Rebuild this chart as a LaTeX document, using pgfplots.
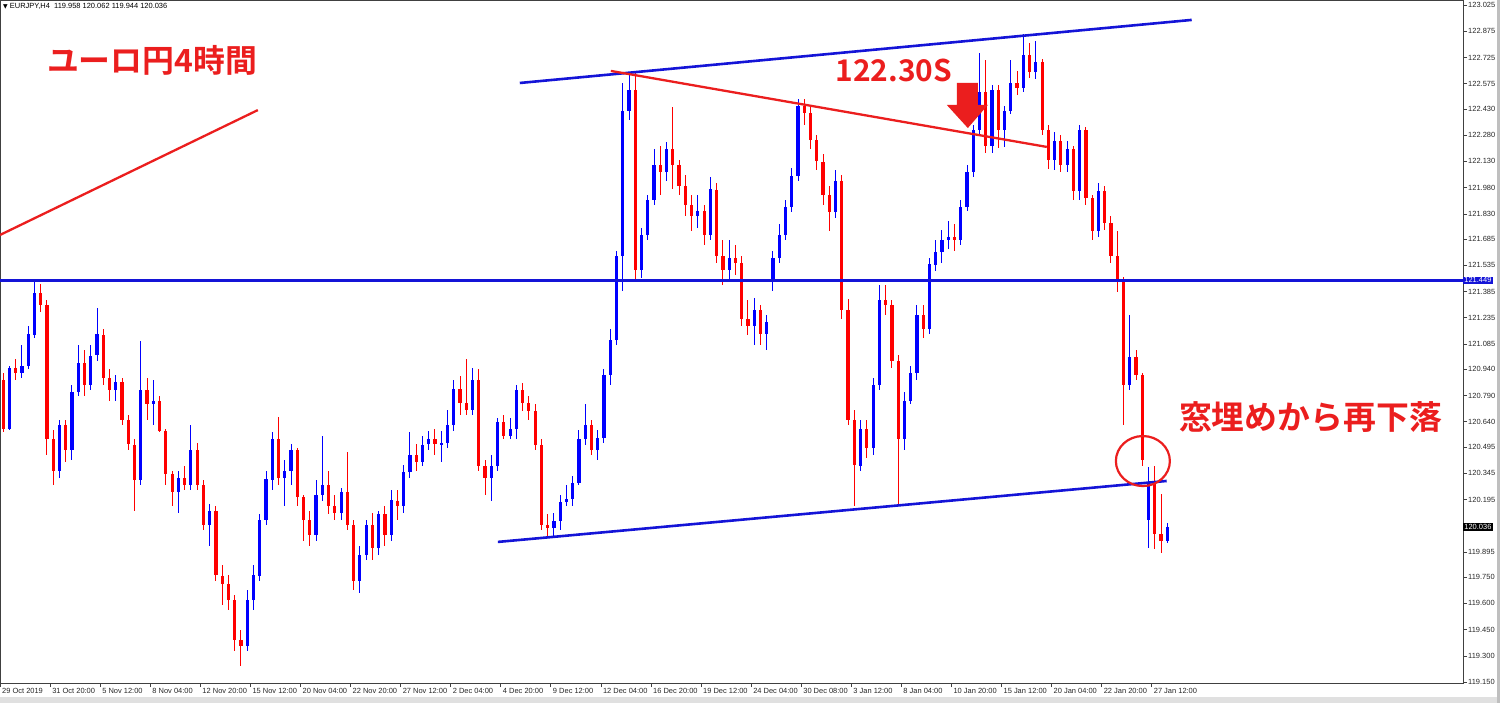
\documentclass[border=0pt]{standalone}
\usepackage{pgfplots}
\pgfplotsset{compat=1.18}
\usepackage{pgfplotstable}
\usepackage{fontspec}
\setmainfont{Liberation Sans}
\newfontfamily\jp{Noto Sans CJK JP}[BoldFont={Noto Sans CJK JP Bold}]
\newfontfamily\sym{DejaVu Sans}
\definecolor{cblue}{RGB}{0,0,255}
\definecolor{cred}{RGB}{255,0,0}
\definecolor{lblue}{RGB}{20,20,215}
\definecolor{lred}{RGB}{235,30,30}

\pgfplotstableread{
x o h l c
1 120.88 120.92 120.58 120.60
3 120.60 120.96 120.59 120.95
5 120.95 121.00 120.88 120.92
7 120.92 121.08 120.89 120.96
9 120.96 121.19 120.94 121.14
11 121.14 121.45 121.12 121.38
13 121.38 121.43 121.27 121.31
15 121.31 121.34 120.45 120.54
17 120.54 120.59 120.28 120.36
19 120.36 120.65 120.32 120.62
21 120.62 120.65 120.41 120.48
23 120.48 120.85 120.42 120.81
25 120.81 121.08 120.79 120.98
27 120.98 121.05 120.79 120.85
29 120.85 121.08 120.82 121.02
31 121.02 121.29 120.99 121.14
33 121.14 121.17 120.85 120.89
35 120.89 120.94 120.76 120.82
37 120.82 120.91 120.76 120.87
39 120.87 120.89 120.62 120.65
41 120.65 120.68 120.48 120.51
43 120.51 120.54 120.13 120.31
45 120.31 121.10 120.28 120.82
47 120.82 120.89 120.65 120.74
49 120.74 120.88 120.62 120.76
51 120.76 120.79 120.58 120.59
53 120.59 120.60 120.28 120.34
55 120.34 120.36 120.16 120.24
57 120.24 120.36 120.12 120.32
59 120.32 120.39 120.25 120.28
61 120.28 120.62 120.25 120.48
63 120.48 120.52 120.25 120.28
65 120.28 120.31 120.02 120.05
67 120.05 120.17 119.93 120.13
69 120.13 120.16 119.73 119.76
71 119.76 119.82 119.59 119.71
73 119.71 119.76 119.56 119.62
75 119.62 119.65 119.33 119.39
77 119.39 119.45 119.24 119.36
79 119.36 119.68 119.33 119.62
81 119.62 119.82 119.56 119.76
83 119.76 120.11 119.73 120.08
85 120.08 120.36 120.05 120.31
87 120.31 120.58 120.25 120.54
89 120.54 120.67 120.28 120.32
91 120.32 120.42 120.16 120.36
93 120.36 120.51 120.28 120.48
95 120.48 120.49 120.16 120.21
97 120.21 120.22 119.96 120.08
99 120.08 120.13 119.93 119.99
101 119.99 120.31 119.96 120.22
103 120.22 120.56 120.19 120.28
105 120.28 120.36 120.11 120.16
107 120.16 120.22 120.08 120.12
109 120.12 120.26 120.08 120.24
111 120.24 120.47 120.02 120.05
113 120.05 120.08 119.68 119.73
115 119.73 119.93 119.66 119.88
117 119.88 120.08 119.85 120.05
119 120.05 120.12 119.85 119.92
121 119.92 120.13 119.88 120.11
123 120.11 120.16 119.93 119.99
125 119.99 120.25 119.96 120.19
127 120.19 120.25 120.08 120.16
129 120.16 120.39 120.12 120.35
131 120.35 120.58 120.32 120.45
133 120.45 120.51 120.36 120.41
135 120.41 120.56 120.39 120.51
137 120.51 120.59 120.48 120.54
139 120.54 120.60 120.45 120.51
141 120.51 120.59 120.41 120.52
143 120.52 120.71 120.49 120.62
145 120.62 120.88 120.59 120.83
147 120.83 120.90 120.68 120.75
149 120.75 121.00 120.68 120.71
151 120.71 120.95 120.68 120.88
153 120.88 120.94 120.36 120.39
155 120.39 120.42 120.22 120.32
157 120.32 120.45 120.19 120.39
159 120.39 120.66 120.36 120.64
161 120.64 120.68 120.54 120.56
163 120.56 120.66 120.54 120.60
165 120.60 120.85 120.54 120.82
167 120.82 120.86 120.70 120.75
169 120.75 120.79 120.65 120.70
171 120.70 120.74 120.48 120.51
173 120.51 120.54 120.02 120.05
175 120.05 120.11 119.98 120.03
177 120.03 120.12 119.98 120.07
179 120.07 120.22 120.02 120.18
181 120.18 120.28 120.16 120.20
183 120.20 120.33 120.16 120.29
185 120.29 120.59 120.28 120.54
187 120.54 120.74 120.51 120.62
189 120.62 120.65 120.45 120.48
191 120.48 120.59 120.42 120.55
193 120.55 120.94 120.52 120.91
195 120.91 121.17 120.85 121.11
197 121.11 121.62 121.08 121.59
199 121.59 122.58 121.39 122.42
201 122.42 122.64 122.37 122.54
203 122.54 122.64 121.45 121.51
205 121.51 121.75 121.46 121.71
207 121.71 121.94 121.68 121.91
209 121.91 122.20 121.88 122.11
211 122.11 122.22 121.94 122.07
213 122.07 122.24 122.02 122.20
215 122.20 122.44 121.97 122.11
217 122.11 122.14 121.94 121.99
219 121.99 122.05 121.82 121.88
221 121.88 121.94 121.73 121.82
223 121.82 121.94 121.75 121.85
225 121.85 121.88 121.65 121.71
227 121.71 122.04 121.68 121.97
229 121.97 122.01 121.55 121.59
231 121.59 121.68 121.42 121.51
233 121.51 121.68 121.44 121.58
235 121.58 121.65 121.48 121.55
237 121.55 121.59 121.19 121.23
239 121.23 121.34 121.14 121.19
241 121.19 121.35 121.08 121.28
243 121.28 121.31 121.08 121.14
245 121.14 121.25 121.05 121.21
247 121.45 121.62 121.39 121.58
249 121.58 121.77 121.55 121.71
251 121.71 121.91 121.68 121.87
253 121.87 122.09 121.84 122.05
255 122.05 122.49 122.02 122.45
257 122.45 122.49 122.34 122.41
259 122.41 122.44 122.20 122.25
261 122.25 122.28 122.08 122.13
263 122.13 122.17 121.88 121.94
265 121.94 121.99 121.73 121.84
267 121.84 122.08 121.81 122.02
269 122.02 122.05 121.23 121.28
271 121.28 121.34 120.62 120.65
273 120.65 120.71 120.16 120.39
275 120.39 120.65 120.36 120.60
277 120.60 120.65 120.43 120.49
279 120.49 120.89 120.45 120.85
281 120.85 121.42 120.82 121.34
283 121.34 121.42 121.25 121.31
285 121.31 121.34 120.95 120.99
287 120.99 121.02 120.17 120.54
289 120.54 120.81 120.48 120.76
291 120.76 120.96 120.74 120.92
293 120.92 121.31 120.88 121.25
295 121.25 121.31 121.12 121.17
297 121.17 121.58 121.14 121.54
299 121.54 121.68 121.50 121.61
301 121.61 121.74 121.55 121.68
303 121.68 121.79 121.63 121.70
305 121.70 121.77 121.62 121.68
307 121.68 121.91 121.65 121.87
309 121.87 122.11 121.85 122.07
311 122.07 122.34 122.04 122.31
313 122.31 122.75 122.28 122.53
315 122.53 122.71 122.18 122.22
317 122.22 122.57 122.18 122.54
319 122.54 122.57 122.21 122.31
321 122.31 122.45 122.21 122.42
323 122.42 122.71 122.40 122.58
325 122.58 122.65 122.51 122.55
327 122.55 122.86 122.53 122.74
329 122.74 122.81 122.61 122.64
331 122.64 122.82 122.60 122.70
333 122.70 122.72 122.28 122.31
335 122.31 122.34 122.09 122.14
337 122.14 122.30 122.08 122.25
339 122.25 122.28 122.07 122.11
341 122.11 122.25 122.07 122.20
343 122.20 122.22 121.91 121.96
345 121.96 122.34 121.91 122.31
347 122.31 122.33 121.88 121.92
349 121.92 121.94 121.68 121.73
351 121.73 122.01 121.70 121.96
353 121.96 121.99 121.74 121.78
355 121.78 121.82 121.55 121.59
357 121.59 121.73 121.38 121.44
359 121.44 121.47 120.62 120.85
361 120.85 121.25 120.82 121.01
363 121.01 121.05 120.88 120.91
365 120.91 120.92 120.39 120.42
367 120.08 120.38 119.92 120.29
369 120.29 120.39 119.91 120.00
371 120.00 120.23 119.89 119.96
373 119.958 120.062 119.944 120.036
}\candles

\begin{document}
\begin{tikzpicture}
\useasboundingbox (0,-20bp) rectangle (1500bp,683bp);
\fill[black!12] (0,-20bp) rectangle (1500bp,-14bp);
\fill[black!25] (1497bp,-20bp) rectangle (1500bp,683bp);
\begin{axis}[
  at={(0,0)}, anchor=south west,
  width=1463bp, height=683bp, scale only axis,
  xmin=0, xmax=467.5, ymin=119.1445, ymax=123.054,
  clip=false,
  axis line style={black!75, line width=0.8bp},
  xtick pos=bottom, ytick pos=right, yticklabel pos=right,
  tick align=outside, major tick length=4bp,
  tick style={black!75, line width=0.6bp},
  xtick={0,16,...,368},
  xticklabels={29 Oct 2019,31 Oct 20:00,5 Nov 12:00,8 Nov 04:00,12 Nov 20:00,15 Nov 12:00,20 Nov 04:00,22 Nov 20:00,27 Nov 12:00,2 Dec 04:00,4 Dec 20:00,9 Dec 12:00,12 Dec 04:00,16 Dec 20:00,19 Dec 12:00,24 Dec 04:00,30 Dec 08:00,3 Jan 12:00,8 Jan 04:00,10 Jan 20:00,15 Jan 12:00,20 Jan 04:00,22 Jan 20:00,27 Jan 12:00},
  ytick={119.150,119.300,119.450,119.600,119.750,119.895,120.195,120.345,120.495,120.640,120.790,120.940,121.085,121.235,121.385,121.535,121.685,121.830,121.980,122.130,122.280,122.430,122.575,122.725,122.875,123.025},
  yticklabels={119.150,119.300,119.450,119.600,119.750,119.895,120.195,120.345,120.495,120.640,120.790,120.940,121.085,121.235,121.385,121.535,121.685,121.830,121.980,122.130,122.280,122.430,122.575,122.725,122.875,123.025},
  xticklabel style={anchor=north west, font=\fontsize{7.5}{8}\selectfont, inner sep=1bp, xshift=1bp, text=black!85},
  yticklabel style={anchor=west, font=\fontsize{7.5}{8}\selectfont, inner sep=1bp, text=black!85},
]
% wicks
\addplot[draw=none, no markers, restrict expr to domain={\thisrow{c}-\thisrow{o}}{0:10},
  error bars/.cd, y dir=both, y explicit, error mark=none, error bar style={draw=cblue, line width=1bp}]
  table[x=x, y expr={(\thisrow{h}+\thisrow{l})/2}, y error expr={(\thisrow{h}-\thisrow{l})/2}] {\candles};
\addplot[draw=none, no markers, restrict expr to domain={\thisrow{c}-\thisrow{o}}{-10:-0.0001},
  error bars/.cd, y dir=both, y explicit, error mark=none, error bar style={draw=cred, line width=1bp}]
  table[x=x, y expr={(\thisrow{h}+\thisrow{l})/2}, y error expr={(\thisrow{h}-\thisrow{l})/2}] {\candles};
% bodies
\addplot[draw=none, no markers, restrict expr to domain={\thisrow{c}-\thisrow{o}}{0:10},
  error bars/.cd, y dir=both, y explicit, error mark=none, error bar style={draw=cblue, line width=3.2bp}]
  table[x=x, y expr={(\thisrow{o}+\thisrow{c})/2}, y error expr={max(abs(\thisrow{c}-\thisrow{o})/2,0.004)}] {\candles};
\addplot[draw=none, no markers, restrict expr to domain={\thisrow{c}-\thisrow{o}}{-10:-0.0001},
  error bars/.cd, y dir=both, y explicit, error mark=none, error bar style={draw=cred, line width=3.2bp}]
  table[x=x, y expr={(\thisrow{o}+\thisrow{c})/2}, y error expr={max(abs(\thisrow{c}-\thisrow{o})/2,0.004)}] {\candles};
% drawn lines
\addplot[lblue, line width=2.6bp] coordinates {(0,121.449) (467.5,121.449)};
\addplot[lblue, line width=2.6bp] coordinates {(166.1,122.579) (380.8,122.940)};
\addplot[lblue, line width=2.6bp] coordinates {(159.1,119.952) (372.8,120.301)};
\addplot[lred, line width=2.3bp] coordinates {(195.2,122.648) (334.5,122.213)};
\addplot[lred, line width=2.3bp] coordinates {(0,121.709) (82.4,122.424)};
\addplot[fill=lred, draw=none] coordinates {(305.75,122.579) (312.46,122.579) (312.46,122.453) (315.65,122.453) (309.27,122.321) (302.56,122.453) (305.75,122.453)} --cycle;
\draw[lred, line width=2.2bp] (axis cs:365.2,120.415) ellipse [x radius=27bp, y radius=25bp];
% texts
\node[text=lred, font=\jp\bfseries\fontsize{32}{36}\selectfont] at (axis cs:48.6,122.71) {ユーロ円4時間};
\node[text=lred, font=\jp\bfseries\fontsize{30}{34}\selectfont] at (axis cs:285.6,122.653) {122.30S};
\node[text=lred, font=\jp\bfseries\fontsize{33}{36}\selectfont] at (axis cs:418.8,120.667) {窓埋めから再下落};
% price labels
\node[fill=lblue, text=white, anchor=west, inner sep=1.2bp, font=\fontsize{7.5}{8}\selectfont] at (axis cs:467.5,121.449) {121.449};
\node[fill=black, text=white, anchor=west, inner sep=1.2bp, font=\fontsize{7.5}{8}\selectfont] at (axis cs:467.5,120.036) {120.036};
\end{axis}
\node[anchor=north west, inner sep=0pt, font=\fontsize{7.5}{9}\selectfont] at (3bp,680bp) {{\sym\fontsize{6}{7}\selectfont ▼}\ EURJPY,H4\ \ 119.958 120.062 119.944 120.036};
\end{tikzpicture}
\end{document}
